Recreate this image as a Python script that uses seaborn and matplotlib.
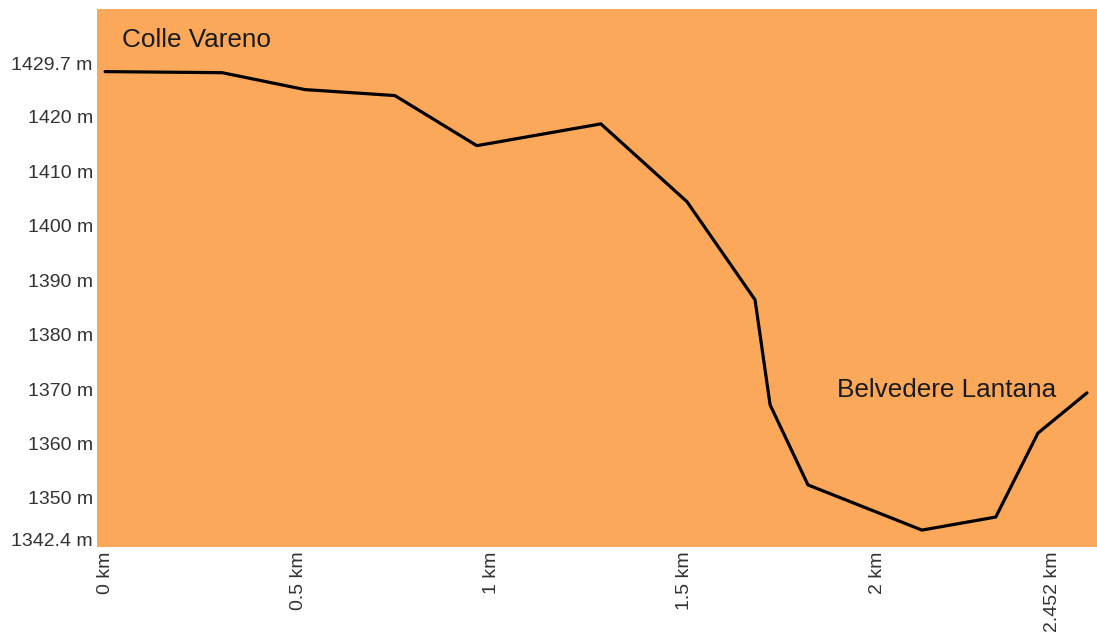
import numpy as np
import pandas as pd
import seaborn as sns
import matplotlib.pyplot as plt

# Profil altimetrico Colle Vareno -> Belvedere Lantana
distance_km = [0.0, 0.303, 0.517, 0.750, 0.962, 1.283, 1.506, 1.682, 1.721, 1.819, 2.114, 2.305, 2.414, 2.541]
altitude_m = [1428.3, 1428.1, 1425.0, 1423.9, 1414.7, 1418.7, 1404.4, 1386.4, 1367.1, 1352.4, 1344.1, 1346.5, 1361.9, 1369.3]

y_ticks = [1342.4, 1350, 1360, 1370, 1380, 1390, 1400, 1410, 1420, 1429.7]
y_labels = ["1342.4 m", "1350 m", "1360 m", "1370 m", "1380 m", "1390 m", "1400 m", "1410 m", "1420 m", "1429.7 m"]
x_ticks = [0, 0.5, 1, 1.5, 2, 2.452]
x_labels = ["0 km", "0.5 km", "1 km", "1.5 km", "2 km", "2.452 km"]

start_name = "Colle Vareno"
end_name = "Belvedere Lantana"

df = pd.DataFrame({"km": distance_km, "alt": altitude_m})

sns.set_style("white")
plt.rcParams['font.family'] = ['Liberation Sans', 'DejaVu Sans']

fig = plt.figure(figsize=(10.97, 6.42), dpi=100)
ax = fig.add_axes([0.0884, 0.148, 0.9116, 0.838])
ax.set_facecolor("#FCA85A")

sns.lineplot(data=df, x="km", y="alt", color="black", linewidth=2.3, ax=ax, sort=False)

ax.set_xlim(-0.021, 2.567)
ax.set_ylim(1341.0, 1439.8)
ax.set_yticks(y_ticks)
ax.set_yticklabels(y_labels)
ax.set_xticks(x_ticks)
ax.set_xticklabels(x_labels, rotation=90)
ax.tick_params(axis="both", length=0, labelsize=14, colors="#333333", pad=3)
ax.set_xlabel("")
ax.set_ylabel("")
for s in ax.spines.values():
    s.set_visible(False)

ax.text(0.044, 1432.9, start_name, fontsize=18.8, color="#1a1a1a", va="baseline")
ax.text(1.894, 1368.6, end_name, fontsize=18.8, color="#1a1a1a", va="baseline")

fig.savefig("out.png", dpi=100)
